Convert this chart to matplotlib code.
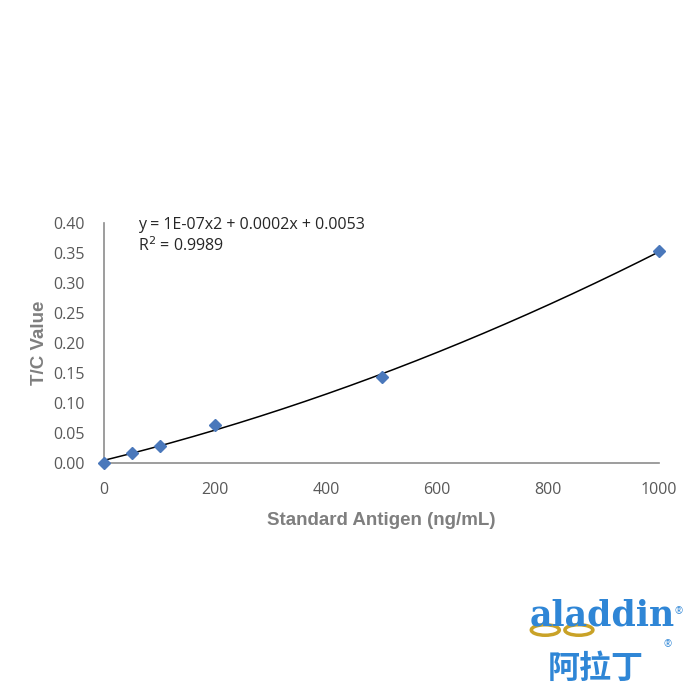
import numpy as np
import matplotlib.pyplot as plt
from matplotlib.patches import Ellipse

# standard curve data
conc = [0, 50, 100, 200, 500, 1000]
tc_value = [0.0, 0.017, 0.028, 0.063, 0.143, 0.353]
xticks = [0, 200, 400, 600, 800, 1000]
yticks = [0.00, 0.05, 0.10, 0.15, 0.20, 0.25, 0.30, 0.35, 0.40]
equation = 'y = 1E-07x2 + 0.0002x + 0.0053'
r_squared = 'R$^2$ = 0.9989'

plt.rcParams['font.family'] = ['Open Sans', 'DejaVu Sans']

fig = plt.figure(figsize=(7, 7), dpi=100)
ax = fig.add_axes([0.1486, 0.3386, 0.7928, 0.3428])

# quadratic trendline
coef = np.polyfit(conc, tc_value, 2)
xs = np.linspace(0, 1000, 200)
ax.plot(xs, np.polyval(coef, xs), color='black', lw=1.1, zorder=2)
ax.plot(conc, tc_value, linestyle='none', marker='D', ms=6.5,
        color='#4a78bb', clip_on=False, zorder=3)

ax.set_xlim(0, 1000)
ax.set_ylim(0, 0.4)
ax.set_xticks(xticks)
ax.set_yticks(yticks)
ax.set_yticklabels([f'{v:.2f}' for v in yticks])
ax.tick_params(length=0, labelsize=11.5, labelcolor='#595959')
ax.tick_params(axis='x', pad=14)
ax.tick_params(axis='y', pad=14)
for s in ['top', 'right']:
    ax.spines[s].set_visible(False)
ax.spines['left'].set_color('#8c8c8c')
ax.spines['bottom'].set_color('#8c8c8c')
ax.spines['left'].set_linewidth(1.2)
ax.spines['bottom'].set_linewidth(1.2)

ax.set_xlabel('Standard Antigen (ng/mL)', fontsize=13.5, fontweight='bold',
              color='#7f7f7f', family='Liberation Sans', labelpad=10)
ax.set_ylabel('T/C Value', fontsize=13.5, fontweight='bold',
              color='#7f7f7f', family='Liberation Sans', labelpad=4)

ax.text(0.061, 0.99, equation, transform=ax.transAxes, fontsize=11.5,
        color='#262626', va='center', ha='left')
ax.text(0.061, 0.905, r_squared, transform=ax.transAxes, fontsize=11.5,
        color='#262626', va='center', ha='left')

# logo
blue = '#2f86d6'
for cx in [0.779, 0.827]:
    fig.patches.append(Ellipse((cx, 0.1), 0.04, 0.015, transform=fig.transFigure,
                               fill=False, ec='#c9a227', lw=2.5))
fig.text(0.757, 0.107, 'aladdin', fontsize=25, color=blue, family='DejaVu Serif',
         fontweight='bold', ha='left', va='baseline')
fig.text(0.963, 0.122, '®', fontsize=7, color=blue, ha='left')
fig.text(0.783, 0.032, '阿拉丁', fontsize=23, color=blue, fontweight='bold',
         family=['Noto Sans CJK SC', 'DejaVu Sans'], ha='left', va='baseline')
fig.text(0.948, 0.075, '®', fontsize=7, color=blue, ha='left')

fig.savefig('out.png', dpi=100)
